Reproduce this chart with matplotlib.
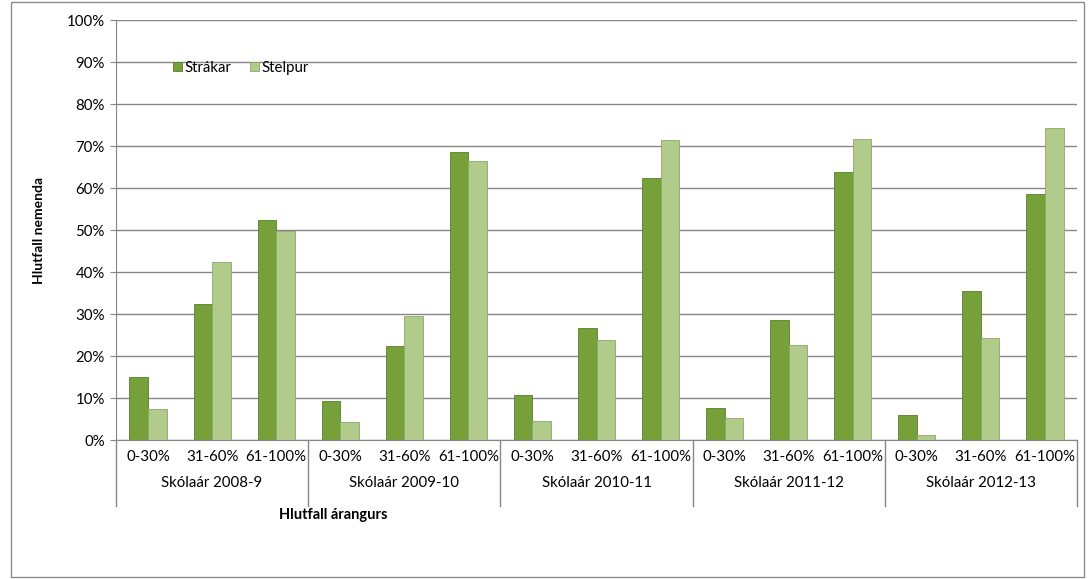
import numpy as np
import matplotlib
matplotlib.use("Agg")
import matplotlib.pyplot as plt
from matplotlib.patches import Rectangle
import matplotlib.transforms as mtransforms

plt.rcParams['font.family'] = ['Lato', 'DejaVu Sans']

# Data
skolaar = ["Skólaár 2008-9", "Skólaár 2009-10", "Skólaár 2010-11",
           "Skólaár 2011-12", "Skólaár 2012-13"]
flokkar = ["0-30%", "31-60%", "61-100%"]
strakar = [15.0, 32.4, 52.4,
           9.4, 22.3, 68.5,
           10.8, 26.7, 62.5,
           7.6, 28.6, 63.9,
           6.0, 35.4, 58.6]
stelpur = [7.5, 42.5, 49.8,
           4.2, 29.6, 66.4,
           4.5, 23.9, 71.5,
           5.2, 22.7, 71.7,
           1.1, 24.3, 74.4]

col_strakar = "#76A03A"
col_stelpur = "#B0CB8A"
fs = 10.8

fig = plt.figure(figsize=(10.9, 5.79), dpi=100)
ax = fig.add_axes([116 / 1090, 139 / 579, 961 / 1090, 420 / 579])

# outer chart border
fig.patches.append(Rectangle((11 / 1090, 2 / 579), 1073 / 1090, 575 / 579,
                             transform=fig.transFigure, fill=False,
                             edgecolor="#8c8c8c", linewidth=1))

n = len(strakar)
x = np.arange(n)
w = 0.29
ax.bar(x - w / 2, strakar, w, color=col_strakar, edgecolor="#5b7d2a",
       linewidth=0.6, label="Strákar", zorder=3)
ax.bar(x + w / 2, stelpur, w, color=col_stelpur, edgecolor="#8ea66a",
       linewidth=0.6, label="Stelpur", zorder=3)

ax.set_xlim(-0.5, n - 0.5)
ax.set_ylim(0, 100)
ax.set_yticks(np.arange(0, 101, 10))
ax.set_yticklabels([f"{v}%" for v in range(0, 101, 10)], fontsize=fs)
ax.yaxis.grid(True, color="#868686", linewidth=1, zorder=0)
ax.tick_params(axis="y", length=4, color="#868686", pad=4)

for s in ["top", "right"]:
    ax.spines[s].set_visible(False)
ax.spines["left"].set_color("#868686")
ax.spines["bottom"].set_color("#868686")

# sub-category labels
ax.set_xticks(x)
ax.set_xticklabels(flokkar * len(skolaar), fontsize=fs)
ax.tick_params(axis="x", length=0, pad=7)

# group separators and labels
trans = mtransforms.blended_transform_factory(ax.transData, ax.transAxes)
for i in range(len(skolaar) + 1):
    xp = i * 3 - 0.5
    ax.plot([xp, xp], [0, -0.157], transform=trans, color="#868686",
            linewidth=1, clip_on=False)
for i, lab in enumerate(skolaar):
    ax.text(i * 3 + 1, -0.103, lab, transform=trans, ha="center",
            va="center", fontsize=fs)

ax.set_ylabel("Hlutfall nemenda", fontsize=10, fontweight="bold", labelpad=16)
fig.text(333 / 1090, 1 - 515 / 579, "Hlutfall árangurs", ha="center",
         va="center", fontsize=10.5, fontweight="bold")

ax.legend(loc="upper left", bbox_to_anchor=(0.045, 0.935), ncol=2,
          frameon=False, fontsize=fs, handlelength=0.6, handleheight=0.6,
          handletextpad=0.15, columnspacing=1.3)

fig.savefig("out.png", dpi=100)
